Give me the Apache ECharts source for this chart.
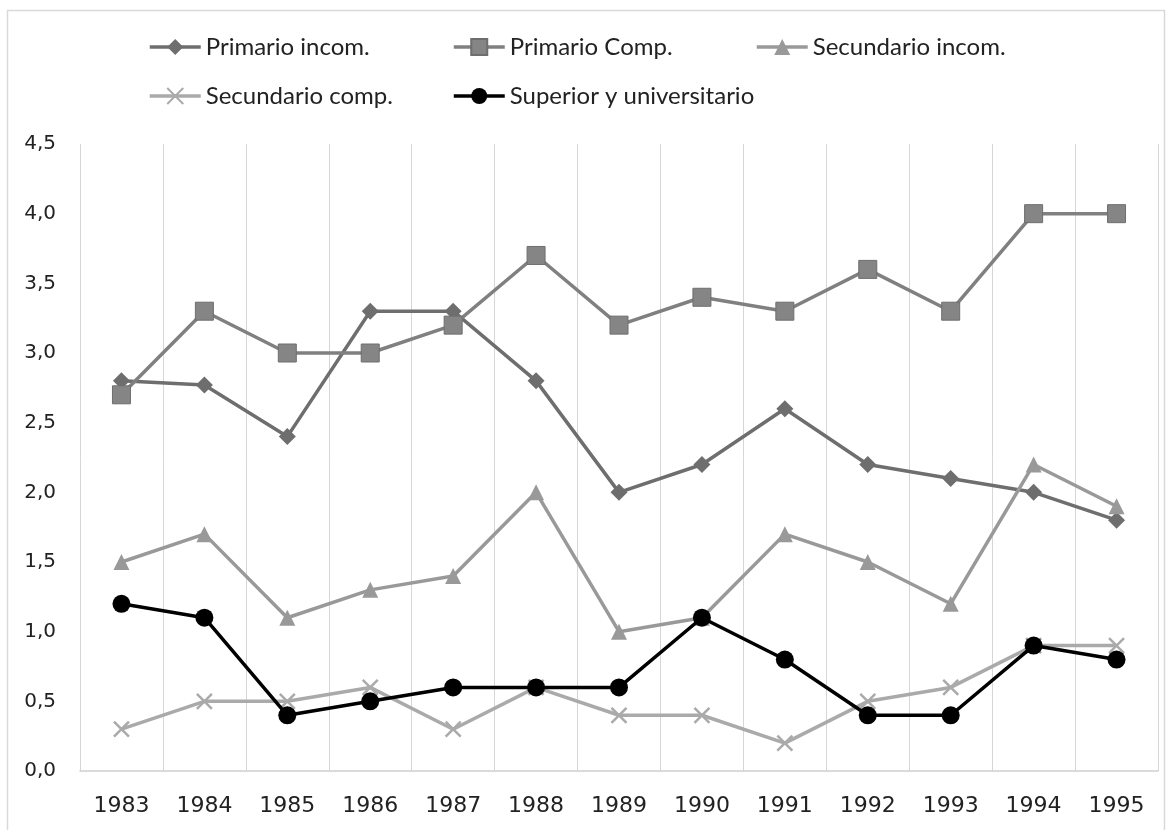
<!DOCTYPE html>
<html>
<head>
<meta charset="utf-8">
<script src="https://cdn.jsdelivr.net/npm/echarts@6/dist/echarts.min.js"></script>
<style>
  html, body { margin: 0; padding: 0; background: #fff; }
  #chart { width: 1172px; height: 830px; }
</style>
</head>
<body>
<div id="chart"></div>
<script>
const years = ['1983', '1984', '1985', '1986', '1987', '1988', '1989', '1990', '1991', '1992', '1993', '1994', '1995'];
const primarioIncom = [2.8, 2.77, 2.4, 3.3, 3.3, 2.8, 2.0, 2.2, 2.6, 2.2, 2.1, 2.0, 1.8];
const primarioComp = [2.7, 3.3, 3.0, 3.0, 3.2, 3.7, 3.2, 3.4, 3.3, 3.6, 3.3, 4.0, 4.0];
const secundarioIncom = [1.5, 1.7, 1.1, 1.3, 1.4, 2.0, 1.0, 1.1, 1.7, 1.5, 1.2, 2.2, 1.9];
const secundarioComp = [0.3, 0.5, 0.5, 0.6, 0.3, 0.6, 0.4, 0.4, 0.2, 0.5, 0.6, 0.9, 0.9];
const superior = [1.2, 1.1, 0.4, 0.5, 0.6, 0.6, 0.6, 1.1, 0.8, 0.4, 0.4, 0.9, 0.8];

const font = 'Lato, "Open Sans", sans-serif';
const xMark = 'path://M0,0L10,10M10,0L0,10';

const chart = echarts.init(document.getElementById('chart'));

function legendAt(name, left, top) {
  return {
    data: [name], left: left, top: top, padding: 0,
    itemWidth: 51, itemHeight: 20, itemGap: 0,
    lineStyle: { width: 3.5 },
    textStyle: { fontFamily: font, fontSize: 24, color: '#222', padding: [0, 0, 0, 0] }
  };
}

function lineSeries(name, data, color, symbol, size, extra) {
  return Object.assign({
    name: name, type: 'line', data: data,
    symbol: symbol, symbolSize: size,
    lineStyle: { color: color, width: 3.5 },
    itemStyle: { color: color },
    emphasis: { disabled: true },
    z: 2
  }, extra || {});
}

chart.setOption({
  animation: false,
  textStyle: { fontFamily: font },
  graphic: [{
    type: 'rect', shape: { x: 7.5, y: 10.5, width: 1157, height: 830 },
    style: { fill: 'none', stroke: '#d9d9d9', lineWidth: 1.5 }, silent: true
  }],
  legend: [
    legendAt('Primario incom.', 148, 35),
    legendAt('Primario Comp.', 452, 35),
    legendAt('Secundario incom.', 755, 35),
    legendAt('Secundario comp.', 148, 84),
    legendAt('Superior y universitario', 452, 84)
  ],
  grid: { left: 80, right: 14, top: 144, bottom: 59 },
  xAxis: {
    type: 'category', data: years, boundaryGap: true,
    axisTick: { show: false },
    axisLine: { lineStyle: { color: '#d0d0d0', width: 1.5 } },
    axisLabel: { color: '#222', fontSize: 22, fontFamily: '"DejaVu Sans", sans-serif', margin: 24 },
    splitLine: { show: true, lineStyle: { color: '#d6d6d6', width: 1 } }
  },
  yAxis: {
    type: 'value', min: 0, max: 4.5, interval: 0.5,
    axisLine: { show: false }, axisTick: { show: false },
    splitLine: { show: false },
    axisLabel: {
      color: '#222', fontSize: 20, fontFamily: '"DejaVu Sans", sans-serif', margin: 24,
      formatter: v => v.toFixed(1).replace('.', ',')
    }
  },
  series: [
    lineSeries('Primario incom.', primarioIncom, '#6e6e6e', 'diamond', 17),
    lineSeries('Primario Comp.', primarioComp, '#808080', 'rect', 18,
      { itemStyle: { color: '#858585', borderColor: '#6e6e6e', borderWidth: 1 } }),
    lineSeries('Secundario incom.', secundarioIncom, '#999999', 'triangle', 16),
    lineSeries('Secundario comp.', secundarioComp, '#aaaaaa', xMark, 15,
      { itemStyle: { color: 'none', borderColor: '#aaaaaa', borderWidth: 2.5 } }),
    lineSeries('Superior y universitario', superior, '#000000', 'circle', 18, { z: 3 })
  ]
});
</script>
</body>
</html>
